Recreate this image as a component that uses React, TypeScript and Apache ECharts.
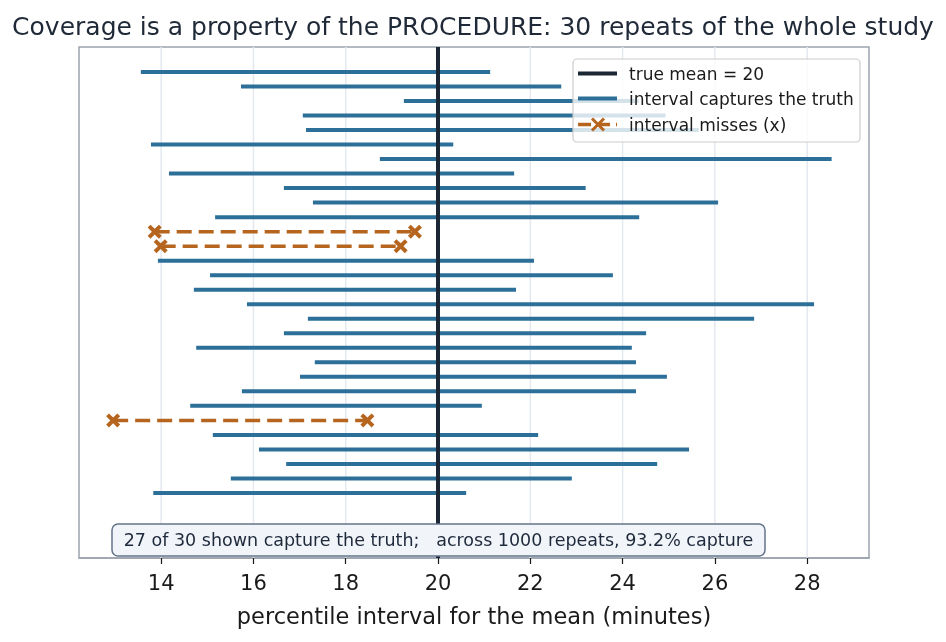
import React, { useEffect, useRef } from "react";
import * as echarts from "echarts";

// 30 repeated studies: lower / upper ends of each percentile interval (minutes)
const intervalLow = [
  13.56, 15.73, 19.26, 17.07, 17.14, 13.78, 18.74, 14.17, 16.66, 17.29,
  15.17, 13.86, 13.99, 13.93, 15.06, 14.71, 15.86, 17.18, 16.66, 14.76,
  17.33, 17.01, 15.75, 14.63, 12.96, 15.12, 16.12, 16.71, 15.51, 13.83,
];
const intervalHigh = [
  21.13, 22.67, 24.35, 24.93, 25.65, 20.33, 28.53, 21.65, 23.2, 26.07,
  24.36, 19.5, 19.19, 22.08, 23.79, 21.69, 28.15, 26.85, 24.51, 24.2,
  24.29, 24.96, 24.29, 20.95, 18.47, 22.17, 25.44, 24.75, 22.9, 20.61,
];
const trueMean = 20;
const xTicks = [14, 16, 18, 20, 22, 24, 26, 28];
const xRange = [12.22, 29.34];
const yRange = [-1.72, 33.48];
const repeatsTotal = 1000;
const coverageAll = 93.2;

const BLUE = "#2c6f98";
const ORANGE = "#b5651d";
const DARK = "#1c2735";
const FONT = "DejaVu Sans";
const X_MARK =
  "path://M2,0 L5,3 L8,0 L10,2 L7,5 L10,8 L8,10 L5,7 L2,10 L0,8 L3,5 L0,2 Z";

const NAME_TRUE = `true mean = ${trueMean}`;
const NAME_HIT = "interval captures the truth";
const NAME_MISS = "interval misses (x)";

export default function App() {
  const ref = useRef<HTMLDivElement>(null);

  useEffect(() => {
    if (!ref.current) return;
    const chart = echarts.init(ref.current, null, { renderer: "svg" });

    const captured = intervalLow.map(
      (lo, i) => lo <= trueMean && intervalHigh[i] >= trueMean
    );
    const hitCount = captured.filter(Boolean).length;

    // faint vertical grid lines at the tick positions
    const gridSeries: any[] = xTicks.map((v) => ({
      type: "line",
      data: [
        [v, yRange[0]],
        [v, yRange[1]],
      ],
      symbol: "none",
      lineStyle: { color: "#e4e9ef", width: 1.5 },
      z: 1,
      silent: true,
    }));

    const intervalSeries: any[] = intervalLow.map((lo, i) => {
      const hi = intervalHigh[i];
      const hit = captured[i];
      return {
        type: "line",
        name: hit ? NAME_HIT : NAME_MISS,
        data: [
          [lo, i],
          [hi, i],
        ],
        symbol: hit ? "none" : X_MARK,
        symbolSize: 14,
        showSymbol: !hit,
        itemStyle: { color: hit ? BLUE : ORANGE },
        lineStyle: hit
          ? { color: BLUE, width: 4, cap: "butt" }
          : { color: ORANGE, width: 3.5, type: [15, 7], cap: "butt" },
        z: hit ? 3 : 4,
        silent: true,
      };
    });

    // legend box and summary note, drawn on top of the plotted lines
    const rowY = [73.5, 98.5, 124.5];
    const overlayChildren: any[] = [
      {
        type: "rect",
        shape: { x: 112, y: 524, width: 653, height: 32, r: 6 },
        style: { fill: "#f1f5f9", stroke: "#64748b", lineWidth: 1.5 },
      },
      {
        type: "text",
        x: 438.5,
        y: 540,
        style: {
          text: `${hitCount} of ${intervalLow.length} shown capture the truth;   across ${repeatsTotal} repeats, ${coverageAll}% capture`,
          fontFamily: FONT,
          fontSize: 17.5,
          fill: "#1e293b",
          align: "center",
          verticalAlign: "middle",
        },
      },
      {
        type: "rect",
        shape: { x: 573, y: 59, width: 287, height: 83, r: 4 },
        style: { fill: "rgba(255,255,255,0.8)", stroke: "#cccccc", lineWidth: 1.2 },
      },
      {
        type: "line",
        shape: { x1: 578, y1: rowY[0], x2: 617, y2: rowY[0] },
        style: { stroke: DARK, lineWidth: 4 },
      },
      {
        type: "line",
        shape: { x1: 578, y1: rowY[1], x2: 617, y2: rowY[1] },
        style: { stroke: BLUE, lineWidth: 4 },
      },
      {
        type: "line",
        shape: { x1: 578, y1: rowY[2], x2: 617, y2: rowY[2] },
        style: { stroke: ORANGE, lineWidth: 3.5, lineDash: [13, 6] },
      },
      {
        type: "line",
        shape: { x1: 592, y1: rowY[2] - 6, x2: 604, y2: rowY[2] + 6 },
        style: { stroke: ORANGE, lineWidth: 3 },
      },
      {
        type: "line",
        shape: { x1: 592, y1: rowY[2] + 6, x2: 604, y2: rowY[2] - 6 },
        style: { stroke: ORANGE, lineWidth: 3 },
      },
      ...[NAME_TRUE, NAME_HIT, NAME_MISS].map((t, k) => ({
        type: "text",
        x: 629,
        y: rowY[k],
        style: {
          text: t,
          fontFamily: FONT,
          fontSize: 17,
          fill: "#1a1a1a",
          align: "left",
          verticalAlign: "middle",
        },
      })),
    ];

    const option: any = {
      animation: false,
      title: {
        text: "Coverage is a property of the PROCEDURE: 30 repeats of the whole study",
        left: "center",
        top: 9,
        textStyle: {
          fontFamily: FONT,
          fontSize: 25,
          fontWeight: "normal",
          color: "#1f2937",
        },
      },
      grid: {
        left: 79,
        top: 47,
        width: 790,
        height: 511,
        show: true,
        borderColor: "#9aa4af",
        borderWidth: 1.5,
        backgroundColor: "#ffffff",
      },
      xAxis: {
        type: "value",
        min: xRange[0],
        max: xRange[1],
        name: "percentile interval for the mean (minutes)",
        nameLocation: "middle",
        nameGap: 46,
        nameTextStyle: {
          fontFamily: FONT,
          fontSize: 22.5,
          color: "#1a1a1a",
        },
        axisLine: {
          show: true,
          onZero: false,
          lineStyle: { color: "#9aa4af", width: 1.5 },
        },
        axisTick: {
          show: true,
          customValues: xTicks,
          length: 6,
          lineStyle: { color: "#1a1a1a", width: 1.2 },
        },
        axisLabel: {
          customValues: xTicks,
          margin: 14,
          fontFamily: FONT,
          fontSize: 21,
          color: "#1a1a1a",
        },
        splitLine: { show: false },
      },
      yAxis: {
        type: "value",
        inverse: true,
        min: yRange[0],
        max: yRange[1],
        show: false,
        axisLine: { onZero: false },
        splitLine: { show: false },
      },
      series: [
        ...gridSeries,
        ...intervalSeries,
        {
          type: "line",
          name: NAME_TRUE,
          data: [
            [trueMean, yRange[0]],
            [trueMean, yRange[1]],
          ],
          symbol: "none",
          itemStyle: { color: DARK },
          lineStyle: { color: DARK, width: 4, cap: "butt" },
          z: 5,
          silent: true,
        },
        {
          type: "custom",
          coordinateSystem: "none",
          data: [0],
          z: 20,
          silent: true,
          renderItem: () => ({ type: "group", children: overlayChildren }),
        },
      ],
    };

    chart.setOption(option);
    return () => chart.dispose();
  }, []);

  return (
    <div
      ref={ref}
      style={{ position: "fixed", left: 0, top: 0, width: 946, height: 642 }}
    />
  );
}
